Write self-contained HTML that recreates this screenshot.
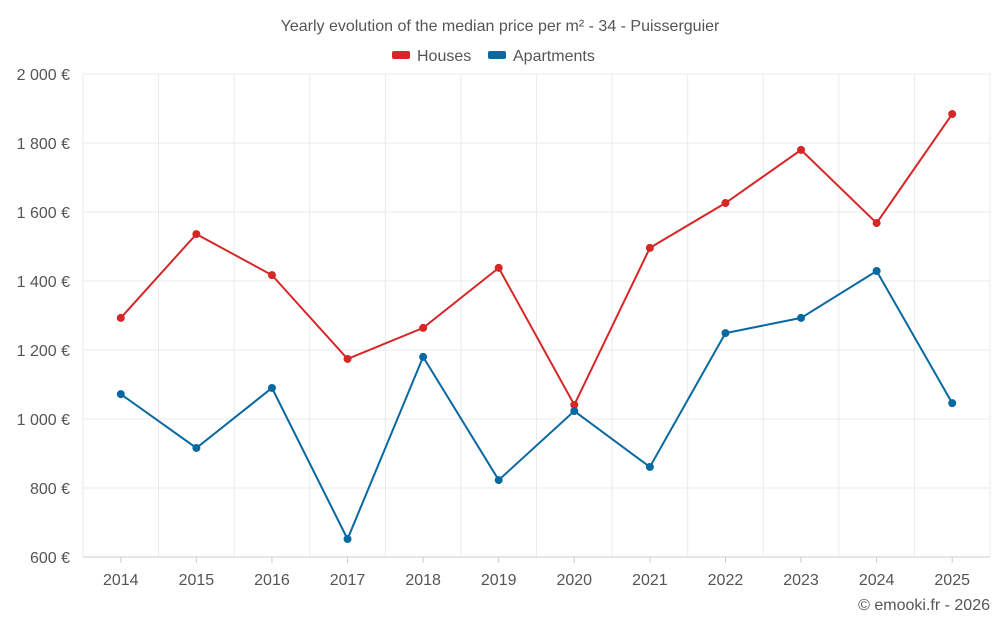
<!DOCTYPE html>
<html><head><meta charset="utf-8"><style>
body{margin:0;background:#fff;font-family:"Liberation Sans",sans-serif}
svg text{font-family:"Liberation Sans",sans-serif}
</style></head><body>
<svg id="c" width="1000" height="625">
<text x="500" y="31" text-anchor="middle" font-size="16" fill="#555">Yearly evolution of the median price per m² - 34 - Puisserguier</text>
<g>
<g><rect x="392" y="51" width="18" height="8" rx="2" fill="#d62728"/><text x="417" y="61" font-size="16" fill="#555">Houses</text></g>
<g><rect x="488" y="51" width="18" height="8" rx="2" fill="#0868a0"/><text x="513" y="61" font-size="16" fill="#555">Apartments</text></g>
</g>
<g id="grid"></g><g id="axes"></g><g id="series"></g>
<text x="990" y="610" text-anchor="end" font-size="16" fill="#555">© emooki.fr - 2026</text>
</svg>
<script>
const years=[2014,2015,2016,2017,2018,2019,2020,2021,2022,2023,2024,2025];
const houses=[1293,1536,1417,1174,1264,1438,1041,1496,1626,1780,1568,1884];
const apartments=[1072,916,1090,652,1180,823,1023,861,1249,1293,1429,1046];
const yTicks=[600,800,1000,1200,1400,1600,1800,2000];
const L=83,R=990,T=74,B=557,ymin=600,ymax=2000;
const step=(R-L)/years.length;
const x=i=>L+step*(i+0.5);
const y=v=>B-(v-ymin)/(ymax-ymin)*(B-T);
const ns="http://www.w3.org/2000/svg";
function mk(tag,attrs,parent){const e=document.createElementNS(ns,tag);for(const k in attrs)e.setAttribute(k,attrs[k]);parent.appendChild(e);return e;}
const grid=document.getElementById('grid'),axes=document.getElementById('axes'),ser=document.getElementById('series');
yTicks.forEach(t=>{
 const l=mk('line',{x1:L,x2:R,y1:y(t),y2:y(t),stroke:t===ymin?'#ccc':'#ebebeb'},grid);
 
 
 const tx=mk('text',{x:70,y:y(t)+6,'text-anchor':'end','font-size':16,fill:'#555'},axes);
 tx.textContent=t.toLocaleString('en').replace(',',' ')+' €';
 
 
});
for(let i=0;i<=years.length;i++){
 const l=mk('line',{x1:L+step*i,x2:L+step*i,y1:T,y2:B,stroke:'#ebebeb'},grid);
 
 
}
years.forEach((yr,i)=>{
 const tk=mk('line',{x1:x(i),x2:x(i),y1:B,y2:B+6,stroke:'#ccc'},axes);
 
 
 const tx=mk('text',{x:x(i),y:585,'text-anchor':'middle','font-size':16,fill:'#555'},axes);
 tx.textContent=yr;
 
 
});
function draw(data,color,name){
 const p=mk('polyline',{points:data.map((v,i)=>x(i)+','+y(v)).join(' '),fill:'none',stroke:color,'stroke-width':2},ser);
 
 
 data.forEach((v,i)=>{
  const c=mk('circle',{cx:x(i),cy:y(v),r:4,fill:color},ser);
  
  
 });
}
draw(houses,'#d62728','houses');
draw(apartments,'#0868a0','apartments');
</script>
</body></html>
